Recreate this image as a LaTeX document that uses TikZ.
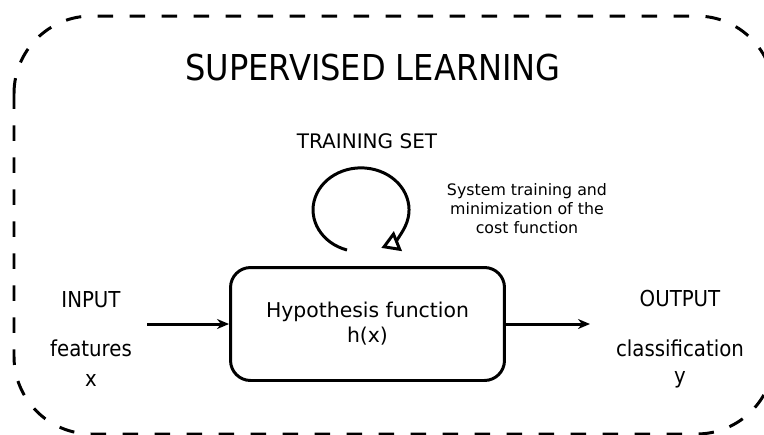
\documentclass[tikz,border=0pt]{standalone}
\usepackage{fontspec}
\setmainfont{DejaVu Sans}
\newfontfamily\condfont{DejaVu Sans Condensed}
\usetikzlibrary{arrows.meta,positioning}

\begin{document}
\begin{tikzpicture}[x=0.02cm, y=-0.02cm,
    frame/.style={line width=1.7pt, dash pattern=on 0.31cm off 0.33cm, rounded corners=1.55cm},
    hypbox/.style={draw, line width=1.7pt, rounded corners=0.4cm, minimum width=5.48cm,
        minimum height=2.26cm, align=center, font=\fontsize{11.6}{14.2}\selectfont},
    side/.style={font=\condfont\fontsize{12.5}{14}\selectfont},
    flow/.style={-{Stealth[length=0.24cm, width=0.2cm]}, line width=1.7pt},
    loopline/.style={-{Triangle[open, length=0.36cm, width=0.42cm]}, line width=1.7pt}]
    \useasboundingbox (0,0) rectangle (764,434);
    \clip (0,0) rectangle (764,434);

    % Frame
    \draw[frame] (14,16) rectangle (774,434);
    \node (title) at (373,68) {\condfont\fontsize{20.3}{24}\selectfont SUPERVISED LEARNING};

    % Training loop
    \node (train) at (367,141) [font=\fontsize{11.4}{13}\selectfont] {TRAINING SET};
    \coordinate (loopstart) at (347,250);
    \draw[loopline] (loopstart) arc[start angle=253, end angle=-65, x radius=0.96cm, y radius=0.84cm];
    \node (note) at (527,209) [align=center, font=\fontsize{9}{10.8}\selectfont]
        {System training and\\minimization of the\\cost function};

    % Hypothesis
    \node[hypbox] (hyp) at (367.5,324) {Hypothesis function\\h(x)};

    % Input
    \node[side] (inp) at (91,300) {INPUT};
    \node[side] (feat) at (91,348) {features};
    \node[side] (xin) at (91,380) {x};
    \coordinate (instart) at (147,324);
    \draw[flow] (instart) -- (hyp.west);

    % Output
    \node[side] (outp) at (680,298) {OUTPUT};
    \node[side] (cls) at (680,348) {classification};
    \node[side] (yout) at (680,380) {y};
    \coordinate (outend) at (590,324);
    \draw[flow] (hyp.east) -- (outend);
\end{tikzpicture}
\end{document}
